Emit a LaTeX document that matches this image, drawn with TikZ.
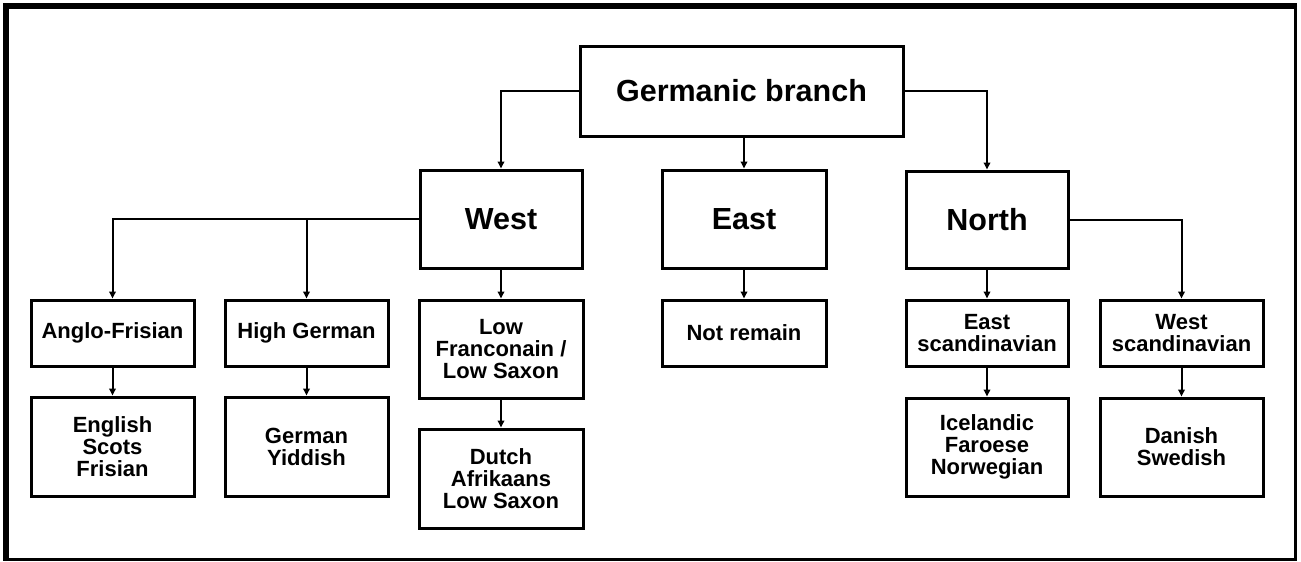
\documentclass[tikz,border=0pt]{standalone}
\usepackage{fontspec}
\setmainfont{Liberation Sans}
\usetikzlibrary{arrows.meta}
\tikzset{
  bigbox/.style={draw, line width=3pt, align=center, inner sep=0pt,
    font=\bfseries\fontsize{30.5}{34}\selectfont},
  smallbox/.style={draw, line width=3pt, align=center, inner sep=0pt,
    font=\bfseries\fontsize{22}{22}\selectfont},
  conn/.style={line width=2pt, -{Triangle[length=7pt,width=6.5pt]}},
}
\begin{document}
\begin{tikzpicture}[x=1pt,y=-1pt]
\useasboundingbox (0,0) rectangle (1301,562);
\fill[white] (0,0) rectangle (1301,562);
\draw[line width=3pt] (4,4) rectangle (1295,559);
\draw[line width=6pt, line cap=round] (6,558) -- (6,6) -- (1294,6);

\node[bigbox, minimum width=323pt, minimum height=90pt] (G) at (741.5,91) {Germanic branch};
\node[bigbox, minimum width=162pt, minimum height=98pt] (W) at (501,219) {West};
\node[bigbox, minimum width=164pt, minimum height=98pt] (E) at (744,219) {East};
\node[bigbox, minimum width=162pt, minimum height=97pt] (N) at (987,219.5) {North};

\node[smallbox, minimum width=163pt, minimum height=66pt] (AF) at (112.5,333) {Anglo-Frisian};
\node[smallbox, minimum width=163pt, minimum height=66pt] (HG) at (306.5,333) {High German};
\node[smallbox, minimum width=164pt, minimum height=98pt] (LF) at (501,349) {Low\\Franconain /\\Low Saxon};
\node[smallbox, minimum width=164pt, minimum height=66pt] (NR) at (744,333) {Not remain};
\node[smallbox, minimum width=162pt, minimum height=66pt] (ES) at (987,333) {East\\scandinavian};
\node[smallbox, minimum width=163pt, minimum height=66pt] (WS) at (1181.5,333) {West\\scandinavian};

\node[smallbox, minimum width=163pt, minimum height=99pt] (EN) at (112.5,446.5) {English\\Scots\\Frisian};
\node[smallbox, minimum width=163pt, minimum height=99pt] (GY) at (306.5,446.5) {German\\Yiddish};
\node[smallbox, minimum width=164pt, minimum height=99pt] (DU) at (501,478.5) {Dutch\\Afrikaans\\Low Saxon};
\node[smallbox, minimum width=162pt, minimum height=98pt] (IC) at (987,447) {Icelandic\\Faroese\\Norwegian};
\node[smallbox, minimum width=163pt, minimum height=98pt] (DS) at (1181.5,447) {Danish\\Swedish};

\draw[conn] (G.west) -| (W.north);
\draw[conn] (E.north |- G.south) -- (E.north);
\draw[conn] (G.east) -| (N.north);

\draw[conn] (W.west) -| (AF.north);
\draw[conn] (W.west) -| (HG.north);
\draw[conn] (W.south) -- (LF.north);
\draw[conn] (LF.south) -- (DU.north);
\draw[conn] (AF.south) -- (EN.north);
\draw[conn] (HG.south) -- (GY.north);

\draw[conn] (E.south) -- (NR.north);

\draw[conn] (N.south) -- (ES.north);
\draw[conn] (ES.south) -- (IC.north);
\draw[conn] (N.east) -| (WS.north);
\draw[conn] (WS.south) -- (DS.north);
\end{tikzpicture}
\end{document}
